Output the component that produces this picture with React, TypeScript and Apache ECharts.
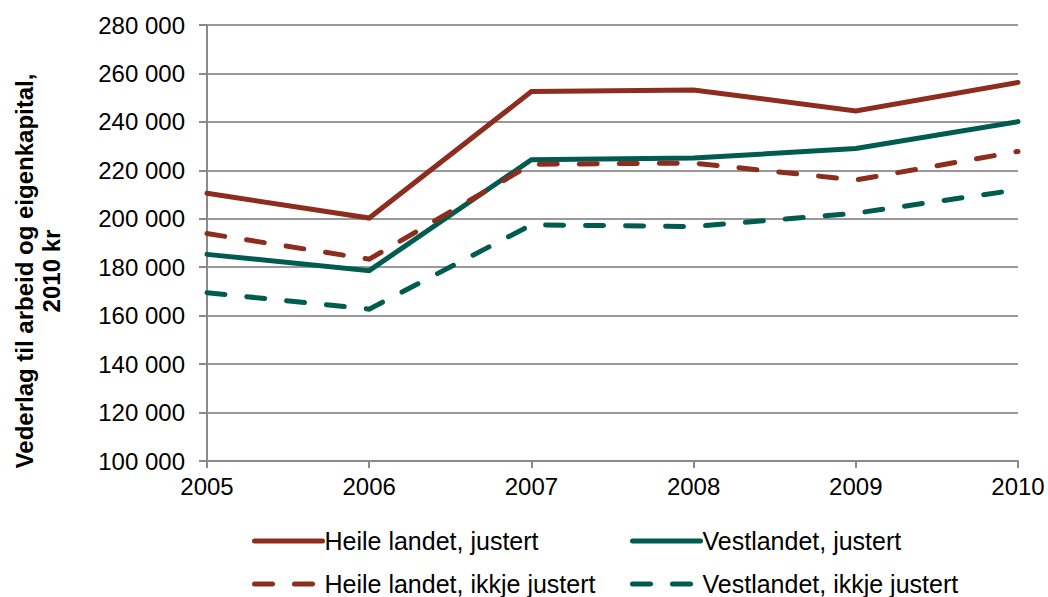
import React, { useEffect, useRef } from "react";
import * as echarts from "echarts";

const years = ["2005", "2006", "2007", "2008", "2009", "2010"];
const heileJustert = [210500, 200300, 252500, 253200, 244500, 256300];
const vestJustert = [185300, 178600, 224400, 225100, 229000, 240100];
const heileIkkje = [193900, 183300, 222500, 223000, 216000, 227800];
const vestIkkje = [169500, 162700, 197500, 196800, 202300, 212000];

const RED = "#8C2D1E";
const GREEN = "#005C4E";
const FONT = "Liberation Sans, Arial, sans-serif";

const fmt = (v: number) => String(v).replace(/\B(?=(\d{3})+(?!\d))/g, " ");

export default function App() {
  const ref = useRef<HTMLDivElement>(null);
  useEffect(() => {
    if (!ref.current) return;
    const chart = echarts.init(ref.current, undefined, { renderer: "svg" });
    const mkSeries = (name: string, data: number[], color: string, dashed: boolean) => ({
      name,
      type: "line",
      data,
      symbol: "none",
      lineStyle: {
        color,
        width: 5,
        type: dashed ? [18, 22] : "solid",
        cap: "round",
        join: "miter",
      },
      itemStyle: { color },
    });
    const mkLegend = (name: string, left: number, top: number) => ({
      data: [name],
      left,
      top,
      orient: "horizontal",
      itemWidth: 68,
      itemHeight: 14,
      itemGap: 0,
      padding: 0,
      itemStyle: { opacity: 0 },
      lineStyle: { width: 5, cap: "round", type: "inherit", color: "inherit" },
      textStyle: { fontFamily: FONT, fontSize: 25, color: "#000", lineHeight: 28, padding: [0, 0, 0, -3] },
      selectedMode: false,
    });
    chart.setOption({
      animation: false,
      textStyle: { fontFamily: FONT },
      grid: { left: 207, right: 30, top: 25, bottom: 136, containLabel: false },
      legend: [
        mkLegend("Heile landet, justert", 252, 527),
        mkLegend("Vestlandet, justert", 630, 527),
        mkLegend("Heile landet, ikkje justert", 252, 570),
        mkLegend("Vestlandet, ikkje justert", 630, 570),
      ],
      xAxis: {
        type: "category",
        data: years,
        boundaryGap: false,
        axisLine: { lineStyle: { color: "#8A8A8A", width: 2 } },
        axisTick: { show: true, length: 7, lineStyle: { color: "#8A8A8A", width: 2 } },
        axisLabel: { color: "#000", fontSize: 24, fontFamily: FONT, margin: 13 },
        splitLine: { show: false },
      },
      yAxis: {
        type: "value",
        min: 100000,
        max: 280000,
        interval: 20000,
        name: "Vederlag til arbeid og eigenkapital,\n2010 kr",
        nameLocation: "middle",
        nameGap: 142,
        nameTextStyle: {
          fontFamily: FONT,
          fontSize: 24,
          fontWeight: "bold",
          color: "#000",
          lineHeight: 27,
          align: "center",
          padding: [0, 56, 0, 0],
        },
        axisLine: { show: true, lineStyle: { color: "#8A8A8A", width: 2 } },
        axisTick: { show: true, length: 8, lineStyle: { color: "#8A8A8A", width: 2 } },
        axisLabel: { color: "#000", fontSize: 24, fontFamily: FONT, margin: 22, formatter: fmt },
        splitLine: { show: true, lineStyle: { color: "#999999", width: 2 } },
      },
      series: [
        mkSeries("Heile landet, justert", heileJustert, RED, false),
        mkSeries("Vestlandet, justert", vestJustert, GREEN, false),
        mkSeries("Heile landet, ikkje justert", heileIkkje, RED, true),
        mkSeries("Vestlandet, ikkje justert", vestIkkje, GREEN, true),
      ],
    });
    return () => chart.dispose();
  }, []);
  return <div ref={ref} style={{ width: 1048, height: 597, position: "absolute", left: 0, top: 0 }} />;
}
